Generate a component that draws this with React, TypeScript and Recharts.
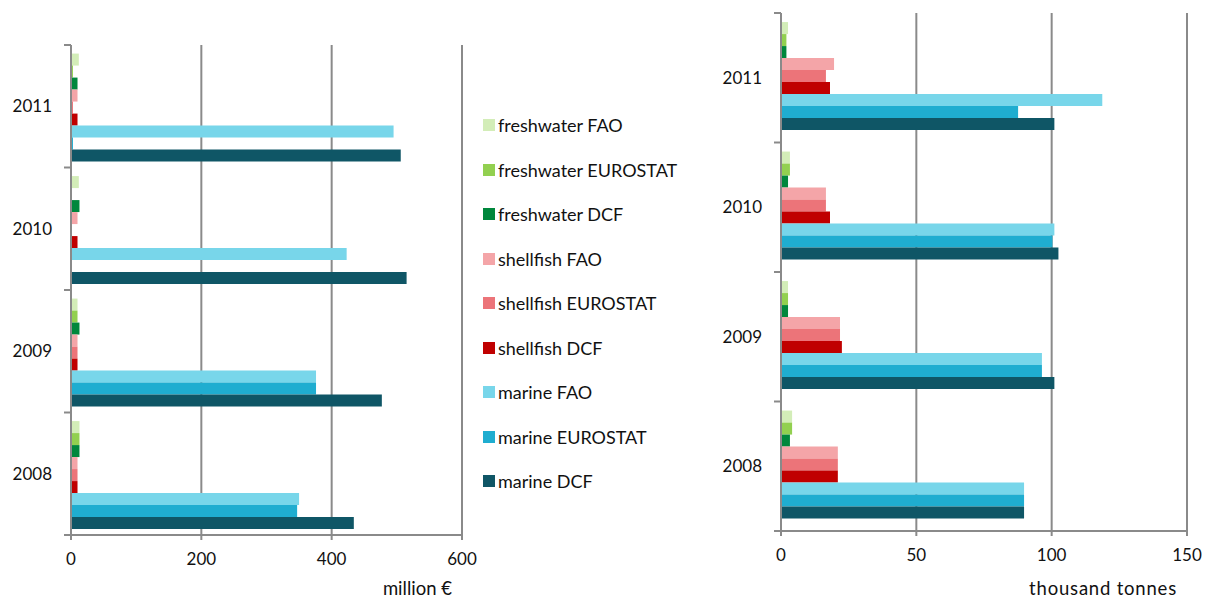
import { BarChart, Bar, XAxis, YAxis, CartesianGrid } from 'recharts'

const years = ['2011', '2010', '2009', '2008']

const seriesKeys = ['fwFAO', 'fwEUROSTAT', 'fwDCF', 'shFAO', 'shEUROSTAT', 'shDCF', 'maFAO', 'maEUROSTAT', 'maDCF']
const seriesNames = [
  'freshwater FAO',
  'freshwater EUROSTAT',
  'freshwater DCF',
  'shellfish FAO',
  'shellfish EUROSTAT',
  'shellfish DCF',
  'marine FAO',
  'marine EUROSTAT',
  'marine DCF',
]
const COLORS = ['#d3edb8', '#92d050', '#00873c', '#f4a5a8', '#ec7479', '#c00000', '#78d6ea', '#1fadd0', '#0f5666']

// million €
const valueFwFAO = [12, 12, 10, 13]
const valueFwEUROSTAT = [3, 0, 10, 13]
const valueFwDCF = [10, 13, 13, 13]
const valueShFAO = [10, 10, 10, 10]
const valueShEUROSTAT = [3, 0, 10, 10]
const valueShDCF = [10, 10, 10, 10]
const valueMaFAO = [495, 423, 376, 350]
const valueMaEUROSTAT = [3, 0, 376, 347]
const valueMaDCF = [506, 515, 477, 434]

// thousand tonnes
const volFwFAO = [2.6, 3.3, 2.6, 4.1]
const volFwEUROSTAT = [2.0, 3.3, 2.6, 4.1]
const volFwDCF = [2.0, 2.6, 2.6, 3.3]
const volShFAO = [19.6, 16.6, 21.8, 21.0]
const volShEUROSTAT = [16.6, 16.6, 21.8, 21.0]
const volShDCF = [18.1, 18.1, 22.5, 21.0]
const volMaFAO = [118.7, 101.0, 96.4, 89.8]
const volMaEUROSTAT = [87.6, 100.3, 96.4, 89.8]
const volMaDCF = [101.0, 102.5, 101.0, 89.8]

const valueTicks = [0, 200, 400, 600]
const volumeTicks = [0, 50, 100, 150]

const valueSeries = [valueFwFAO, valueFwEUROSTAT, valueFwDCF, valueShFAO, valueShEUROSTAT, valueShDCF, valueMaFAO, valueMaEUROSTAT, valueMaDCF]
const volumeSeries = [volFwFAO, volFwEUROSTAT, volFwDCF, volShFAO, volShEUROSTAT, volShDCF, volMaFAO, volMaEUROSTAT, volMaDCF]

function buildRows(series: number[][]) {
  return years.map((year, i) => {
    const row: Record<string, string | number> = { year }
    seriesKeys.forEach((k, j) => {
      row[k] = series[j][i]
    })
    return row
  })
}

const valueData = buildRows(valueSeries)
const volumeData = buildRows(volumeSeries)

const FONT = 'Lato, "Open Sans", sans-serif'
const GRID = '#8a8a8a'
const TEXT = '#111'

function makeYearTick(axisX: number, band: number) {
  return (props: any) => {
    const { x, y, payload, index } = props
    return (
      <g>
        <text x={x} y={y} dy={6} textAnchor="end" fontSize={17} fontFamily={FONT} fill={TEXT}>
          {payload.value}
        </text>
        <line x1={axisX - 7} x2={axisX} y1={y - band / 2} y2={y - band / 2} stroke={GRID} strokeWidth={2} />
        {index === years.length - 1 && (
          <line x1={axisX - 7} x2={axisX} y1={y + band / 2} y2={y + band / 2} stroke={GRID} strokeWidth={2} />
        )}
      </g>
    )
  }
}

type PanelProps = {
  data: Record<string, string | number>[]
  width: number
  height: number
  top: number
  right: number
  xHeight: number
  left: number
  yWidth: number
  ticks: number[]
  unit: string
  unitSpacing: number
}

function Panel({ data, width, height, top, right, xHeight, left, yWidth, ticks, unit, unitSpacing }: PanelProps) {
  const plotH = height - top - xHeight
  const axisX = left + yWidth
  return (
    <BarChart
      width={width}
      height={height}
      data={data}
      layout="vertical"
      margin={{ top, right, bottom: 0, left }}
      barCategoryGap="7%"
      barGap={0}
    >
      <CartesianGrid horizontal={false} stroke={GRID} strokeWidth={2} />
      <XAxis
        type="number"
        domain={[ticks[0], ticks[ticks.length - 1]]}
        ticks={ticks}
        interval={0}
        axisLine={{ stroke: GRID, strokeWidth: 2 }}
        tickLine={{ stroke: GRID, strokeWidth: 2 }}
        tickSize={5}
        tickMargin={13}
        height={xHeight}
        tick={{ fontSize: 17, fontFamily: FONT, fill: TEXT }}
        label={{
          value: unit,
          position: 'insideBottomRight',
          offset: 10,
          style: { fontSize: 18.5, fontFamily: FONT, fill: TEXT, letterSpacing: unitSpacing },
        }}
      />
      <YAxis
        type="category"
        dataKey="year"
        width={yWidth}
        axisLine={{ stroke: GRID, strokeWidth: 2 }}
        tickLine={false}
        tickSize={0}
        tickMargin={19}
        tick={makeYearTick(axisX, plotH / years.length)}
      />
      {seriesKeys.map((k, i) => (
        <Bar key={k} dataKey={k} name={seriesNames[i]} fill={COLORS[i]} isAnimationActive={false} />
      ))}
    </BarChart>
  )
}

function LegendBox() {
  return (
    <div style={{ position: 'absolute', left: 483, top: 103, fontFamily: FONT, fontSize: 18, color: TEXT }}>
      {seriesNames.map((name, i) => (
        <div key={name} style={{ height: 44.5, display: 'flex', alignItems: 'center' }}>
          <span style={{ width: 12, height: 12, background: COLORS[i], marginRight: 3, display: 'inline-block' }} />
          <span style={{ whiteSpace: 'nowrap' }}>{name}</span>
        </div>
      ))}
    </div>
  )
}

export default function App() {
  return (
    <div style={{ position: 'absolute', left: 0, top: 0, width: 1208, height: 605, background: '#fff' }}>
      <div style={{ position: 'absolute', left: 0, top: 0 }}>
        <Panel
          data={valueData}
          width={480}
          height={605}
          top={45}
          right={18}
          xHeight={70}
          left={11}
          yWidth={60}
          ticks={valueTicks}
          unit="million €"
          unitSpacing={0}
        />
      </div>
      <LegendBox />
      <div style={{ position: 'absolute', left: 700, top: 0 }}>
        <Panel
          data={volumeData}
          width={508}
          height={605}
          top={13}
          right={21}
          xHeight={74}
          left={11}
          yWidth={70}
          ticks={volumeTicks}
          unit="thousand tonnes"
          unitSpacing={0.8}
        />
      </div>
    </div>
  )
}
